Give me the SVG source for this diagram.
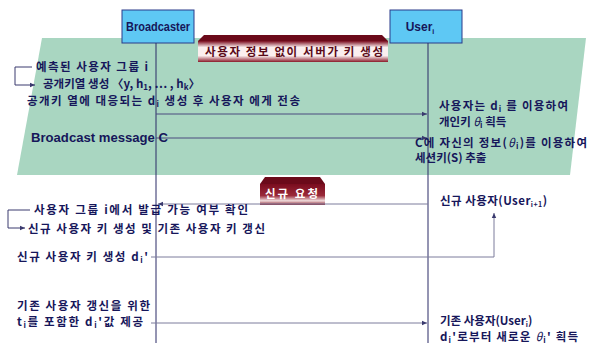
<svg xmlns="http://www.w3.org/2000/svg" width="589" height="346" viewBox="0 0 589 346">
<defs>
<style>
.t{font-family:"Noto Sans CJK KR","Liberation Sans",sans-serif;font-size:11.5px;fill:#16165a;font-weight:bold}
.lat{font-family:"Liberation Sans","Noto Sans CJK KR",sans-serif;font-size:12px;fill:#16165a;font-weight:bold}
.box{fill:#5ec8f4;stroke:#2a3a8a;stroke-width:1}
.life{stroke:#2a2a66;stroke-width:1;fill:none}
.msg{stroke:#4a4a7e;stroke-width:1;fill:none;marker-end:url(#ah)}
.msg2{stroke:#7c7c9c;stroke-width:1;fill:none}
.br{stroke:#3a3a6e;stroke-width:1;fill:none}
</style>
<marker id="ah" markerWidth="6" markerHeight="6" refX="5" refY="3" orient="auto" markerUnits="userSpaceOnUse">
<path d="M0,0.8 L5,3 L0,5.2 Z" fill="#3a3a6e"/>
</marker>
<linearGradient id="b1" x1="0" y1="0" x2="0" y2="1">
<stop offset="0" stop-color="#7a0c1e"/>
<stop offset="0.3" stop-color="#fbefef"/>
<stop offset="0.7" stop-color="#fbefef"/>
<stop offset="1" stop-color="#8a1a2a"/>
</linearGradient>
<linearGradient id="b2" x1="0" y1="0" x2="0" y2="1">
<stop offset="0" stop-color="#7a0c1e"/>
<stop offset="0.55" stop-color="#9a2a3a"/>
<stop offset="0.8" stop-color="#f0dcdc"/>
<stop offset="1" stop-color="#8a1a2a"/>
</linearGradient>
</defs>
<rect width="589" height="346" fill="#ffffff"/>
<polygon points="42,38 586,38 570,175 17,175" fill="#a9d6c1"/>

<g id="broadcaster">
<rect class="box" x="122" y="10" width="72" height="33"/>
<text class="lat" x="158" y="31" text-anchor="middle" font-size="11" textLength="64" lengthAdjust="spacingAndGlyphs">Broadcaster</text>
</g>
<g id="user">
<rect class="box" x="390" y="10" width="72" height="33"/>
<text class="lat" x="420" y="31" text-anchor="middle" font-size="11">User<tspan font-size="7" dy="3">i</tspan></text>
</g>

<g id="lifelines">
<line class="life" x1="156" y1="43" x2="156" y2="343"/>
<line class="life" x1="428" y1="43" x2="428" y2="343"/>
</g>

<g id="banner1">
<polygon points="198,41 204,35 382,35 388,41" fill="#6b0a1a"/>
<rect x="198" y="41" width="190" height="21" fill="url(#b1)"/>
<text class="t" x="205" y="56" textLength="178" lengthAdjust="spacing" style="fill:#5a0a18">사용자 정보 없이 서버가 키 생성</text>
</g>
<g id="banner2">
<polygon points="260,184 265,177 320,177 325,184" fill="#6b0a1a"/>
<rect x="260" y="184" width="65" height="21" fill="url(#b2)"/>
<text class="t" x="265" y="198" textLength="53" lengthAdjust="spacing" style="fill:#ffffff">신규 요청</text>
</g>

<g id="connectors">
<path class="br" d="M32,67 H15 V85 H35" marker-end="url(#ah)"/>
<line class="msg" x1="156" y1="114" x2="427" y2="114"/>
<line class="msg" x1="156" y1="138" x2="427" y2="138"/>
<line class="msg2" x1="428" y1="204" x2="158" y2="204" marker-end="url(#ah)"/>
<path class="br" d="M30,210 H8 V228 H25" marker-end="url(#ah)"/>
<path class="msg2" d="M151,257 H494 V213" marker-end="url(#ah)"/>
<line class="msg2" x1="151" y1="323" x2="427" y2="323" marker-end="url(#ah)"/>
</g>

<g id="labels">
<text class="t" x="36" y="71" textLength="112" lengthAdjust="spacing">예측된 사용자 그룹 i</text>
<text class="t" x="43" y="88" textLength="157" lengthAdjust="spacing">공개키열 생성 〈y, h<tspan font-size="8" dy="2">1</tspan><tspan dy="-2">, … , h</tspan><tspan font-size="8" dy="2">k</tspan><tspan dy="-2">〉</tspan></text>
<text class="t" x="27" y="105" textLength="273" lengthAdjust="spacing">공개키 열에 대응되는 d<tspan font-size="8" dy="2">i</tspan><tspan dy="-2"> 생성 후 사용자 에게 전송</tspan></text>
<text class="t" x="439" y="110" textLength="129" lengthAdjust="spacing">사용자는 d<tspan font-size="8" dy="2">i</tspan><tspan dy="-2"> 를 이용하여</tspan></text>
<text class="t" x="439" y="126" font-size="11">개인키 <tspan font-style="italic" font-weight="normal">θ</tspan><tspan font-size="8" dy="2">i</tspan><tspan dy="-2"> 획득</tspan></text>
<text class="lat" x="31" y="142" textLength="137" lengthAdjust="spacingAndGlyphs">Broadcast message C</text>
<text class="t" x="415" y="147" textLength="172" lengthAdjust="spacing">C에 자신의 정보(<tspan font-style="italic" font-weight="normal">θ</tspan><tspan font-size="8" dy="2">i</tspan><tspan dy="-2">)를 이용하여</tspan></text>
<text class="t" x="415" y="162" font-size="11">세션키(S) 추출</text>
<text class="t" x="440" y="205" textLength="107" lengthAdjust="spacing">신규 사용자(User<tspan font-size="7" dy="2">i+1</tspan><tspan dy="-2">)</tspan></text>
<text class="t" x="34" y="214" textLength="214" lengthAdjust="spacing">사용자 그룹 i에서 발급 가능 여부 확인</text>
<text class="t" x="28" y="233" textLength="237" lengthAdjust="spacing">신규 사용자 키 생성 및 기존 사용자 키 갱신</text>
<text class="t" x="17" y="261" textLength="131" lengthAdjust="spacing">신규 사용자 키 생성 d<tspan font-size="8" dy="2">i</tspan><tspan dy="-2">'</tspan></text>
<text class="t" x="17" y="310" textLength="133" lengthAdjust="spacing">기존 사용자 갱신을 위한</text>
<text class="t" x="17" y="326" textLength="126" lengthAdjust="spacing">t<tspan font-size="8" dy="2">i</tspan><tspan dy="-2">를 포함한 d</tspan><tspan font-size="8" dy="2">i</tspan><tspan dy="-2">'값 제공</tspan></text>
<text class="t" x="440" y="325" font-size="11">기존 사용자(User<tspan font-size="7" dy="2">i</tspan><tspan dy="-2">)</tspan></text>
<text class="t" x="440" y="341" textLength="138" lengthAdjust="spacing">d<tspan font-size="8" dy="2">i</tspan><tspan dy="-2">'로부터 새로운 </tspan><tspan font-style="italic" font-weight="normal">θ</tspan><tspan font-size="8" dy="2">i</tspan><tspan dy="-2">' 획득</tspan></text>
</g>
</svg>
